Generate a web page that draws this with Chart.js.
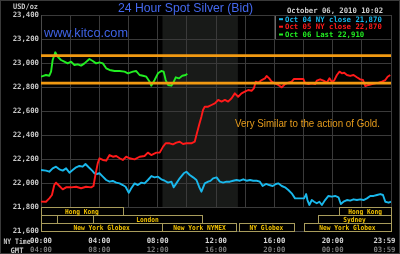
<!DOCTYPE html>
<html><head><meta charset="utf-8">
<script src="https://cdn.jsdelivr.net/npm/chart.js@4.4.1/dist/chart.umd.min.js"></script>
<style>html,body{margin:0;padding:0;background:#000;overflow:hidden}#wrap{width:400px;height:254px;position:relative}</style>
</head><body><div id="wrap"><canvas id="c" width="400" height="254"></canvas></div>
<script>
// ---------- data ----------
const yTickValues = [21600,21800,22000,22200,22400,22600,22800,23000,23200,23400];
const nyTimeLabels = ["00:00","04:00","08:00","12:00","16:00","20:00","23:59"];
const gmtTimeLabels = ["04:00","08:00","12:00","16:00","20:00","00:00","03:59"];
const timeLabelHours = [0,4,8,12,16,20,23.55];

const oct04Times = [0,0.34,0.57,0.80,1.03,1.26,1.49,1.72,1.95,2.17,2.41,2.63,2.86,3.05,3.27,3.51,3.67,3.82,4.01,4.24,4.47,4.70,4.92,5.16,5.39,5.61,5.80,6.02,6.19,6.42,6.64,6.88,7.10,7.33,7.57,7.79,8.02,8.25,8.48,8.71,8.94,9.10,9.28,9.51,9.79,9.97,10.20,10.43,10.66,10.84,11.00,11.23,11.46,11.62,11.80,12.04,12.26,12.49,12.72,12.95,13.18,13.41,13.64,13.87,14.10,14.33,14.55,14.79,15.01,15.20,15.43,15.65,15.89,16.11,16.27,16.51,16.73,16.96,17.19,17.42,17.76,18.04,18.18,18.27,18.40,18.57,18.73,18.91,19.09,19.26,19.48,19.71,19.94,20.17,20.40,20.56,20.74,20.98,21.20,21.43,21.66,21.89,22.12,22.35,22.58,22.81,23.04,23.27,23.45,23.61,23.84,24.0];
const oct04Values = [22108,22103,22094,22122,22136,22114,22103,22122,22086,22108,22131,22142,22136,22158,22131,22103,22081,22075,22081,22053,22025,22011,22017,22003,21997,21983,21969,21919,21956,21997,21983,22003,21997,22025,22058,22047,22053,22031,22019,22003,22011,21964,21997,22039,22081,22094,22067,22047,22025,21969,21928,21997,22011,22018,22039,22047,22011,22003,22011,22011,22019,22025,22019,22031,22019,22025,22019,22019,22011,21975,21992,21983,21975,21992,21997,21975,21964,21942,21914,21872,21872,21872,21908,21858,21817,21858,21844,21831,21844,21817,21858,21892,21886,21892,21881,21825,21844,21858,21853,21864,21858,21864,21858,21872,21892,21892,21900,21908,21900,21844,21836,21844];

const oct05Times = [0,0.34,0.57,0.75,0.91,1.03,1.26,1.49,1.72,2.06,2.41,2.75,3.09,3.44,3.60,3.73,3.89,4.01,4.24,4.47,4.70,4.93,5.16,5.39,5.61,5.84,6.07,6.42,6.76,7.10,7.33,7.56,7.91,8.14,8.37,8.55,8.82,9.05,9.28,9.51,9.74,9.97,10.31,10.54,10.66,10.84,11.00,11.11,11.23,11.46,11.69,11.92,12.15,12.38,12.61,12.83,13.07,13.29,13.52,13.75,13.98,14.21,14.44,14.60,14.72,14.90,15.13,15.36,15.47,15.65,15.82,16.04,16.27,16.51,16.73,16.96,17.19,17.35,17.65,17.99,18.11,18.34,18.57,18.80,18.91,19.14,19.37,19.60,19.78,19.94,20.10,20.29,20.47,20.63,20.79,20.98,21.20,21.43,21.66,21.89,22.08,22.24,22.46,22.70,22.92,23.15,23.38,23.61,23.77,23.95];
const oct05Values = [21845,21844,21872,21900,21983,22003,21975,21947,21964,21964,21969,21956,21969,21964,21975,22067,22164,22206,22192,22186,22233,22219,22225,22206,22192,22219,22206,22197,22219,22225,22253,22233,22253,22253,22303,22331,22331,22322,22336,22344,22325,22331,22331,22344,22400,22483,22553,22608,22636,22636,22650,22664,22692,22678,22692,22678,22706,22747,22719,22747,22761,22775,22769,22789,22844,22836,22858,22872,22892,22872,22844,22831,22817,22797,22825,22836,22844,22867,22867,22867,22831,22825,22831,22825,22853,22864,22853,22836,22872,22844,22853,22900,22928,22914,22919,22900,22892,22900,22881,22864,22858,22808,22817,22825,22831,22836,22844,22858,22886,22900];

const oct06Times = [0,0.34,0.57,0.69,0.80,0.98,1.14,1.37,1.60,1.83,2.06,2.29,2.52,2.75,2.98,3.32,3.55,3.78,4.01,4.24,4.47,4.70,5.04,5.39,5.73,5.96,6.30,6.53,6.76,6.99,7.22,7.45,7.56,7.79,8.02,8.25,8.41,8.55,8.71,8.94,9.05,9.24,9.47,9.69,9.92,10.03];
const oct06Values = [22886,22900,22894,22928,23025,23089,23053,23025,23011,22997,23011,22983,22989,22978,22997,23033,23017,22997,23006,22997,22956,22942,22933,22933,22928,22914,22928,22933,22900,22894,22886,22844,22811,22858,22914,22933,22928,22858,22817,22811,22831,22881,22872,22894,22900,22910];

const resistanceLevels = [23062, 22832];
const nymexWindow = [8.33, 13.5];

const legendLabels = ["Oct 04 NY close 21,870","Oct 05 NY close 22,870","Oct 06 Last 22,910"];
const seriesColors = ["#19b8ec","#ff1a1a","#22ee22"];

const sessionNames = ["Hong Kong","Hong Kong","","London","Sydney","New York Globex","New York NYMEX","NY Globex","New York Globex"];
const sessionRows  = [0,0,1,1,1,2,2,2,2];
const sessionStart = [0,20.46,0,3.54,19.0,0,8.33,13.56,18.0];
const sessionEnd   = [5.6,24,1.1,11.06,24,8.33,13.4,17.35,24];
const sessionBand  = [21800, 21600];

// ---------- helpers ----------
const MONO = "'DejaVu Sans Mono', 'Liberation Mono', monospace";
function fitText(ctx, text, x, y, w, align) {
  const m = ctx.measureText(text).width || 1;
  ctx.save();
  ctx.translate(x, y);
  ctx.scale(w / m, 1);
  ctx.textAlign = align || 'left';
  ctx.fillText(text, 0, 0);
  ctx.restore();
}
const pts = (t, v) => t.map((h, i) => ({x: h, y: v[i]}));

const decorPlugin = {
  id: 'decor',
  beforeDraw(chart) {
    const {ctx, scales: {x, y}} = chart;
    ctx.save();
    ctx.fillStyle = '#000';
    ctx.fillRect(0, 0, chart.width, chart.height);
    // NYMEX shading
    ctx.fillStyle = '#181a18';
    const x0 = x.getPixelForValue(nymexWindow[0]), x1 = x.getPixelForValue(nymexWindow[1]);
    ctx.fillRect(x0, y.top, x1 - x0, y.getPixelForValue(sessionBand[0]) - y.top);
    ctx.restore();
  },
  beforeDatasetsDraw(chart) {
    const {ctx, scales: {x, y}} = chart;
    ctx.save();
    // legend box (covers grid)
    const lx = Math.round(x.getPixelForValue(16)) + 1, rx = Math.round(x.getPixelForValue(24)) - 1;
    const ty = Math.round(y.getPixelForValue(23400)) + 1, by = Math.round(y.getPixelForValue(23200));
    ctx.fillStyle = '#000';
    ctx.fillRect(lx, ty, rx - lx, by - ty);
    ctx.strokeStyle = '#6a6a6a';
    ctx.lineWidth = 1;
    ctx.beginPath(); ctx.moveTo(lx + 0.5, ty); ctx.lineTo(lx + 0.5, by); ctx.stroke();
    // session band background
    const sTop = Math.round(y.getPixelForValue(sessionBand[0])) + 1;
    const sBot = Math.round(y.getPixelForValue(sessionBand[1]));
    ctx.fillStyle = '#000';
    ctx.fillRect(x.left + 1, sTop, x.right - x.left - 1, sBot - sTop);
    // session boxes
    const rowH = (sessionBand[0] - sessionBand[1]) / 3;
    ctx.font = "bold 7px " + MONO;
    ctx.textBaseline = 'alphabetic';
    sessionNames.forEach((name, i) => {
      const top = y.getPixelForValue(sessionBand[0] - sessionRows[i] * rowH);
      const bot = y.getPixelForValue(sessionBand[0] - (sessionRows[i] + 1) * rowH);
      const a = x.getPixelForValue(sessionStart[i]), b = x.getPixelForValue(sessionEnd[i]);
      ctx.strokeStyle = '#a89c5c';
      ctx.lineWidth = 1;
      ctx.strokeRect(Math.round(a) + 0.5, Math.round(top) + 0.5, Math.round(b) - Math.round(a), Math.round(bot) - Math.round(top));
      if (name) {
        ctx.fillStyle = '#f2c200';
        fitText(ctx, name, (a + b) / 2, bot - 1.5, name.length * 3.75, 'center');
      }
    });
    ctx.restore();
  },
  afterDraw(chart) {
    const {ctx} = chart;
    ctx.save();
    ctx.textBaseline = 'alphabetic';
    // title
    ctx.fillStyle = '#4468ee';
    ctx.font = "12.5px 'Liberation Sans', Arial, sans-serif";
    fitText(ctx, "24 Hour Spot Silver (Bid)", 118, 11.5, 135, 'left');
    ctx.font = "12.5px 'Liberation Sans', Arial, sans-serif";
    ctx.fillStyle = '#3f63e6';
    fitText(ctx, "www.kitco.com", 44, 36.5, 84, 'left');
    // small texts
    ctx.font = "bold 7.5px " + MONO;
    ctx.fillStyle = '#c8c8c8';
    fitText(ctx, "USD/oz", 13, 8.5, 25, 'left');
    ctx.fillStyle = '#d0d0d0';
    fitText(ctx, "October 06, 2010 10:02", 287, 12.8, 96, 'left');
    // legend
    const baselines = [21.7, 29.2, 37.0];
    legendLabels.forEach((t, i) => {
      ctx.fillStyle = seriesColors[i];
      ctx.fillRect(279, baselines[i] - 3.5, 4, 2);
      fitText(ctx, t, 285, baselines[i], t.length * 4.4, 'left');
    });
    // axis caption
    ctx.fillStyle = '#c8c8c8';
    fitText(ctx, "NY Time", 17, 244.2, 27, 'center');
    fitText(ctx, "GMT", 17, 253, 13, 'center');
    // annotation
    ctx.fillStyle = '#e69c1c';
    ctx.font = "11.5px 'Liberation Sans Narrow', 'Liberation Sans', Arial, sans-serif";
    fitText(ctx, "Very Similar to the action of Gold.", 235, 126.5, 145, 'left');
    // outer frame
    ctx.strokeStyle = '#3a3a3a';
    ctx.lineWidth = 1;
    ctx.strokeRect(0.5, 0.5, chart.width - 1, chart.height - 1);
    ctx.restore();
  }
};

const tickFont = {family: MONO, size: 7.3, weight: 'bold'};
const noPad = s => { s.paddingLeft = 0; s.paddingRight = 0; s.paddingTop = 0; s.paddingBottom = 0; };
const labelAxis = (labels, color, pad, height, weight) => ({
  type: 'linear', position: 'bottom', min: 0, max: 24, weight: weight,
  grid: {display: false, drawTicks: false}, border: {display: false},
  afterBuildTicks: s => { s.ticks = timeLabelHours.map(v => ({value: v})); },
  afterFit: s => { s.height = height; noPad(s); },
  ticks: {autoSkip: false, maxRotation: 0, font: tickFont, color: color, padding: pad,
          callback: (v, i) => labels[i]}
});

new Chart(document.getElementById('c'), {
  type: 'line',
  data: {
    datasets: [
      {data: [{x: 0, y: resistanceLevels[0]}, {x: 24, y: resistanceLevels[0]}], borderColor: '#f29a12', borderWidth: 2.8},
      {data: [{x: 0, y: resistanceLevels[1]}, {x: 24, y: resistanceLevels[1]}], borderColor: '#f29a12', borderWidth: 2.8},
      {data: pts(oct06Times, oct06Values), borderColor: seriesColors[2], borderWidth: 1.9},
      {data: pts(oct05Times, oct05Values), borderColor: seriesColors[1], borderWidth: 1.9},
      {data: pts(oct04Times, oct04Values), borderColor: seriesColors[0], borderWidth: 1.9}
    ]
  },
  options: {
    responsive: false, animation: false, devicePixelRatio: 1,
    layout: {padding: {left: 0, right: 9, top: 15, bottom: 0}},
    elements: {point: {radius: 0}, line: {tension: 0, borderJoinStyle: 'round'}},
    plugins: {legend: {display: false}, tooltip: {enabled: false}},
    scales: {
      x: {type: 'linear', position: 'bottom', min: 0, max: 24, weight: 0,
          grid: {color: '#3a3a3a', drawTicks: false, lineWidth: 1},
          border: {color: '#4a4a4a'},
          ticks: {display: false, stepSize: 2},
          afterFit: s => { s.height = 0; noPad(s); }},
      xNY: labelAxis(nyTimeLabels, '#d6d6d6', 6, 12, 1),
      xGMT: labelAxis(gmtTimeLabels, '#7a7a7a', 3, 11, 2),
      y: {type: 'linear', min: 21600, max: 23400,
          grid: {color: '#3a3a3a', drawTicks: false, lineWidth: 1},
          border: {color: '#4a4a4a'},
          afterBuildTicks: s => { s.ticks = yTickValues.map(v => ({value: v})); },
          afterFit: s => { s.width = 41; noPad(s); },
          ticks: {font: tickFont, color: '#c8c8c8', padding: 2,
                  callback: v => v.toLocaleString('en-US')}}
    }
  },
  plugins: [decorPlugin]
});
</script></body></html>
